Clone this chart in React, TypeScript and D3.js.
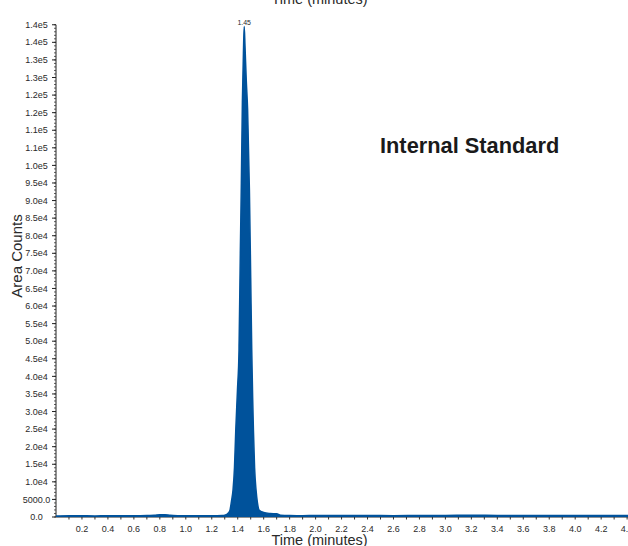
import React from "react";
import * as d3 from "d3";

const times = [
  0.0, 0.1, 0.2, 0.3, 0.4, 0.5, 0.6, 0.7, 0.76, 0.8, 0.84, 0.88, 0.94, 1.0, 1.1, 1.2, 1.28,
  1.3, 1.33, 1.341, 1.352, 1.364, 1.375, 1.385, 1.398, 1.41, 1.42, 1.428, 1.436, 1.444, 1.45,
  1.456, 1.466, 1.476, 1.49, 1.5, 1.508, 1.515, 1.521, 1.53, 1.541, 1.552, 1.564, 1.6, 1.65,
  1.7, 1.73, 1.8, 1.9, 2.0, 2.2, 2.4, 2.6, 2.8, 3.0, 3.2, 3.4, 3.6, 3.8, 4.0, 4.2, 4.4, 4.5,
];
const counts = [
  300, 380, 340, 300, 380, 330, 380, 400, 520, 650, 620, 480, 380, 340, 380, 360, 420,
  500, 1200, 2000, 4500, 7700, 14000, 24700, 36000, 47500, 75000, 95000, 118000, 132000, 139500,
  134000, 124000, 116000, 93000, 68000, 47500, 34000, 24700, 14000, 7700, 4000, 2000, 1300, 1000,
  900, 500, 400, 380, 420, 400, 450, 380, 420, 450, 500, 450, 420, 450, 400, 420, 400, 400,
];

const yTickValues = d3.range(0, 140001, 5000);
const yTickLabels = [
  "0.0", "5000.0", "1.0e4", "1.5e4", "2.0e4", "2.5e4", "3.0e4", "3.5e4", "4.0e4", "4.5e4",
  "5.0e4", "5.5e4", "6.0e4", "6.5e4", "7.0e4", "7.5e4", "8.0e4", "8.5e4", "9.0e4", "9.5e4",
  "1.0e5", "1.1e5", "1.1e5", "1.2e5", "1.2e5", "1.3e5", "1.3e5", "1.4e5", "1.4e5",
];
const xTickValues = d3.range(2, 45, 2).map((v) => v / 10);
const xMinorValues = d3.range(1, 45).map((v) => v / 10);
const peakLabel = "1.45";
const peakTime = 1.45;
const peakValue = 139500;

const W = 628;
const H = 546;
const x0 = 56;
const yBottom = 517;
const color = "#00529B";
const textColor = "#2a2a2a";
const font = "Liberation Sans, Arial, Helvetica, sans-serif";

export default function App() {
  const x = d3.scaleLinear().domain([0, 1]).range([x0, x0 + 129.8]);
  const y = d3.scaleLinear().domain([0, 140000]).range([yBottom, yBottom - 28 * 17.58]);
  const data = times.map((t, i) => ({ t, v: counts[i] }));
  const area = d3
    .area<{ t: number; v: number }>()
    .x((d) => x(d.t))
    .y0(y(0))
    .y1((d) => y(d.v))
    .curve(d3.curveMonotoneX);
  const line = d3
    .line<{ t: number; v: number }>()
    .x((d) => x(d.t))
    .y((d) => y(d.v))
    .curve(d3.curveMonotoneX);
  const yMinor = d3.range(0, 140001, 1000);

  return (
    <svg
      width={W}
      height={H}
      style={{ position: "absolute", left: 0, top: 0, background: "#fff" }}
      fontFamily={font}
    >
      <defs>
        <clipPath id="plot">
          <rect x={x0} y={0} width={W - x0} height={yBottom + 2} />
        </clipPath>
      </defs>
      <text x={319.5} y={4} textAnchor="middle" fontSize={14.5} fill={textColor}>
        Time (minutes)
      </text>
      {/* y axis */}
      <line x1={x0} x2={x0} y1={y(140000)} y2={yBottom} stroke="#222" strokeWidth={1} />
      {yMinor.map((v) => (
        <line key={"ym" + v} x1={x0 - 2} x2={x0} y1={y(v)} y2={y(v)} stroke="#333" strokeWidth={0.8} />
      ))}
      {yTickValues.map((v, i) => (
        <g key={"yt" + v}>
          <line x1={x0 - 4} x2={x0} y1={y(v)} y2={y(v)} stroke="#222" strokeWidth={1} />
          <text x={36.5} y={y(v)} dy="0.35em" textAnchor="middle" fontSize={9} fill={textColor}>
            {yTickLabels[i]}
          </text>
        </g>
      ))}
      {/* x axis */}
      <line x1={x0} x2={W} y1={yBottom} y2={yBottom} stroke="#222" strokeWidth={1} />
      {xMinorValues.map((v) => (
        <line key={"xm" + v} x1={x(v)} x2={x(v)} y1={yBottom} y2={yBottom + 2.5} stroke="#333" strokeWidth={1} />
      ))}
      {xTickValues.map((v) => (
        <text key={"xt" + v} x={x(v)} y={532} textAnchor="middle" fontSize={9} fill={textColor}>
          {v.toFixed(1)}
        </text>
      ))}
      {/* data */}
      <g clipPath="url(#plot)">
        <path d={area(data) || ""} fill={color} />
        <path d={line(data) || ""} fill="none" stroke={color} strokeWidth={1.5} />
      </g>
      <text x={x(peakTime)} y={y(peakValue) - 1.5} textAnchor="middle" fontSize={7} fill={textColor}>
        {peakLabel}
      </text>
      <text x={380} y={153} fontSize={21.8} fontWeight="bold" fill="#1a1a1a">
        Internal Standard
      </text>
      <text
        transform={`translate(22,256) rotate(-90)`}
        textAnchor="middle"
        fontSize={15}
        fill={textColor}
      >
        Area Counts
      </text>
      <text x={319.5} y={545} textAnchor="middle" fontSize={14.5} fill={textColor}>
        Time (minutes)
      </text>
    </svg>
  );
}
